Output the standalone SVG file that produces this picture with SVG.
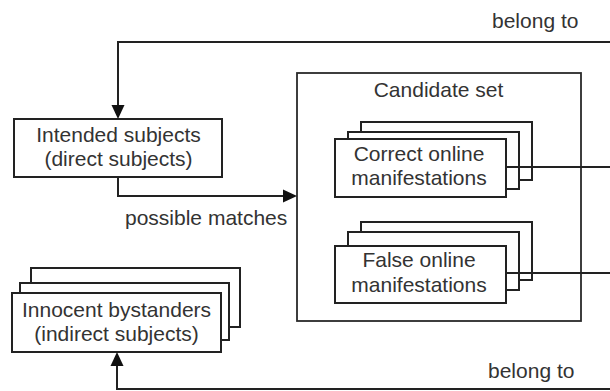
<svg xmlns="http://www.w3.org/2000/svg" width="610" height="391" viewBox="0 0 610 391">
  <style>
    .box { fill: #ffffff; stroke: #222222; stroke-width: 2; }
    .frame { fill: none; stroke: #2a2a2a; stroke-width: 1.8; }
    .lbl { font-family: "Liberation Sans", Arial, sans-serif; font-size: 21px; fill: #333333; }
    .mid { text-anchor: middle; }
    .wire { fill: none; stroke: #222222; stroke-width: 2; }
    .head { fill: #111111; stroke: none; }
  </style>

  <rect width="610" height="391" fill="#ffffff"/>

  <!-- Candidate set container -->
  <g id="candidate-set">
    <rect class="frame" x="297" y="73" width="284" height="248"/>
    <text class="lbl mid" x="438.5" y="97">Candidate set</text>
  </g>

  <!-- Intended subjects -->
  <g id="intended-subjects">
    <rect class="box" x="14" y="119" width="208" height="58"/>
    <text class="lbl mid" x="118.5" y="142">Intended subjects</text>
    <text class="lbl mid" x="118.5" y="166">(direct subjects)</text>
  </g>

  <!-- Correct online manifestations (stacked) -->
  <g id="correct-manifestations">
    <rect class="box" x="361" y="122" width="171" height="58"/>
    <rect class="box" x="348" y="132" width="171" height="57"/>
    <rect class="box" x="335" y="139" width="171" height="58"/>
    <text class="lbl mid" x="419" y="161">Correct online</text>
    <text class="lbl mid" x="419" y="185">manifestations</text>
  </g>

  <!-- False online manifestations (stacked) -->
  <g id="false-manifestations">
    <rect class="box" x="361" y="222" width="171" height="58"/>
    <rect class="box" x="348" y="232" width="171" height="58"/>
    <rect class="box" x="335" y="246" width="171" height="57"/>
    <text class="lbl mid" x="419" y="267">False online</text>
    <text class="lbl mid" x="419" y="292">manifestations</text>
  </g>

  <!-- Innocent bystanders (stacked) -->
  <g id="innocent-bystanders">
    <rect class="box" x="31" y="268" width="209" height="59"/>
    <rect class="box" x="20" y="283" width="209" height="57"/>
    <rect class="box" x="12" y="293" width="209" height="59"/>
    <text class="lbl mid" x="116.5" y="317">Innocent bystanders</text>
    <text class="lbl mid" x="116.5" y="341">(indirect subjects)</text>
  </g>

  <!-- Connectors -->
  <g id="connectors">
    <path class="wire" d="M610,42 H118 V106"/>
    <polygon class="head" points="111.5,105 124.5,105 118,119"/>
    <text class="lbl" x="492" y="28">belong to</text>

    <path class="wire" d="M118,177 V196 H284"/>
    <polygon class="head" points="283,189.5 283,202.5 297,196"/>
    <text class="lbl" x="125" y="225">possible matches</text>

    <path class="wire" d="M506,167 H610"/>
    <path class="wire" d="M506,273 H610"/>

    <path class="wire" d="M610,389 H117 V365"/>
    <polygon class="head" points="110.5,366 123.5,366 117,352"/>
    <text class="lbl" x="488" y="378">belong to</text>
  </g>
</svg>
